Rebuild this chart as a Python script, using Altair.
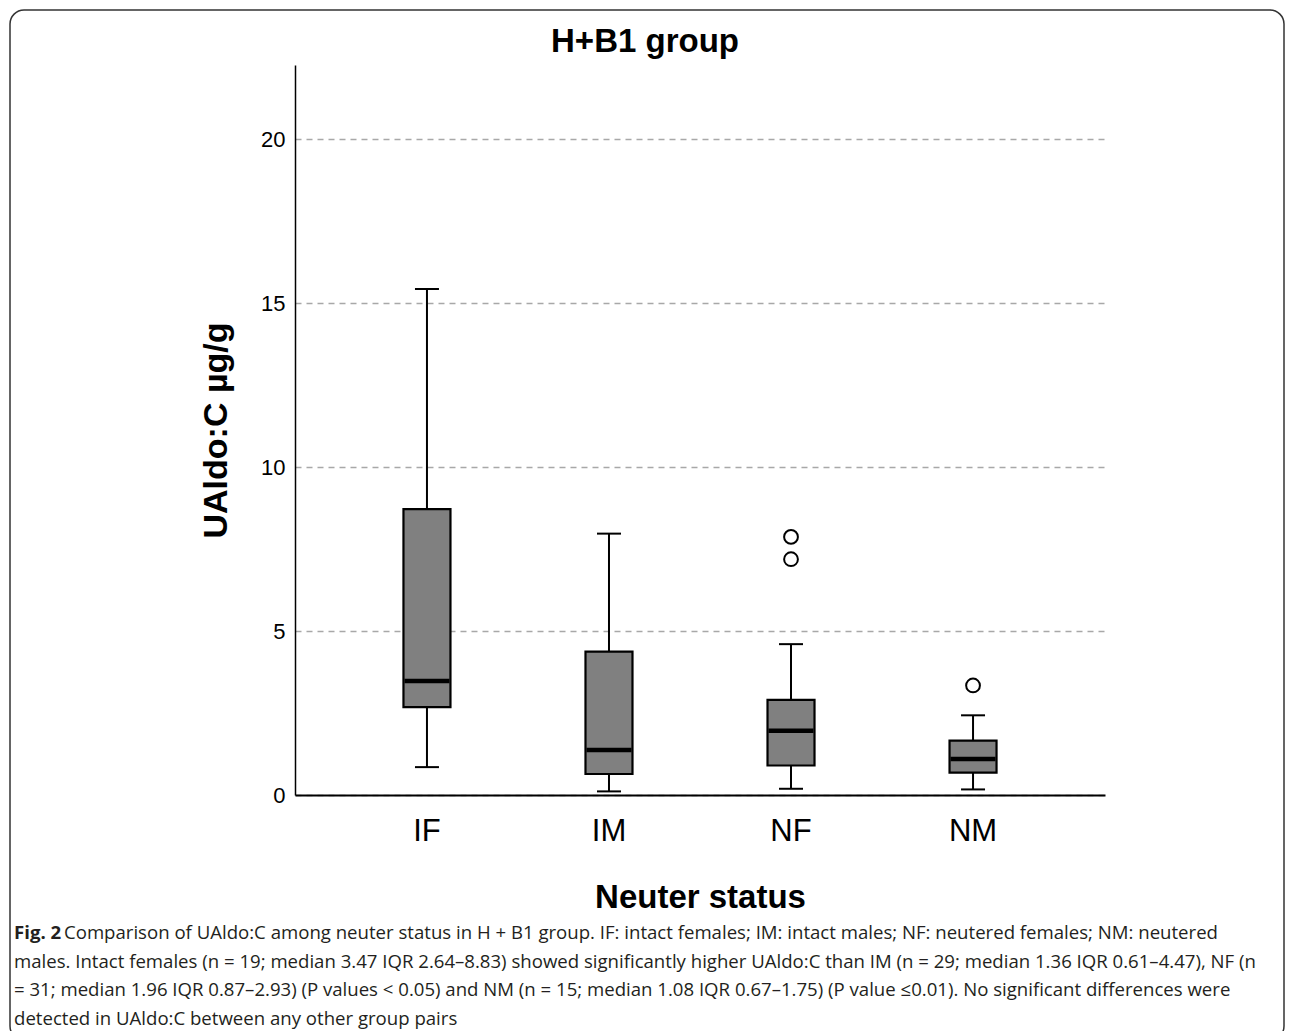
import altair as alt
import pandas as pd

# ---- data ----
categories = ["IF", "IM", "NF", "NM"]
whisker_low = [0.85, 0.11, 0.19, 0.17]
q1 = [2.68, 0.64, 0.90, 0.68]
median = [3.48, 1.37, 1.96, 1.10]
q3 = [8.72, 4.37, 2.90, 1.66]
whisker_high = [15.43, 7.97, 4.60, 2.43]
outlier_groups = ["NF", "NF", "NM"]
outlier_values = [7.87, 7.19, 3.34]
y_ticks = [0, 5, 10, 15, 20]

chart_title = "H+B1 group"
x_title = "Neuter status"
y_title = "UAldo:C µg/g"
caption_bold = "Fig. 2"
caption_lines = [
    "Comparison of UAldo:C among neuter status in H + B1 group. IF: intact females; IM: intact males; NF: neutered females; NM: neutered",
    "males. Intact females (n = 19; median 3.47 IQR 2.64–8.83) showed significantly higher UAldo:C than IM (n = 29; median 1.36 IQR 0.61–4.47), NF (n",
    "= 31; median 1.96 IQR 0.87–2.93) (P values < 0.05) and NM (n = 15; median 1.08 IQR 0.67–1.75) (P value ≤0.01). No significant differences were",
    "detected in UAldo:C between any other group pairs",
]

box_df = pd.DataFrame({
    "group": categories, "low": whisker_low, "q1": q1,
    "median": median, "q3": q3, "high": whisker_high,
})
out_df = pd.DataFrame({"group": outlier_groups, "value": outlier_values})
one = pd.DataFrame({"k": [0]})

FONT = "Liberation Sans"
CAP_FONT = "Open Sans"
CAP_SIZE = 18.6
W, H = 810, 730

x_scale = alt.Scale(domain=categories, paddingInner=0, paddingOuter=0.225)
x_axis = alt.Axis(
    title=x_title, labelAngle=0, labelFont=FONT, labelFontSize=31, labelColor="black",
    labelBaseline="alphabetic", labelPadding=45, ticks=False, tickSize=0,
    domainColor="black", domainWidth=2, grid=False,
    titleFont=FONT, titleFontSize=33, titleFontWeight="bold", titleColor="black",
    titleX=405, titleY=112, titleBaseline="alphabetic", titleAlign="center",
)
y_scale = alt.Scale(domain=[0, 22.26], nice=False, zero=False)
y_axis = alt.Axis(
    title=y_title, values=y_ticks, grid=True, gridDash=[6, 5], gridColor="#a8a8a8",
    gridWidth=1.5, labelFont=FONT, labelFontSize=22, labelColor="black",
    labelPadding=10, ticks=False, tickSize=0, domainColor="black", domainWidth=1.5,
    titleFont=FONT, titleFontSize=34, titleFontWeight="bold", titleColor="black",
    titleAngle=270, titleX=-69, titleY=365, titleBaseline="alphabetic", titleAlign="center",
)


def X():
    return alt.X("group:N", sort=categories, scale=x_scale, axis=x_axis)


def Y(field):
    return alt.Y(f"{field}:Q", scale=y_scale, axis=y_axis)


base = alt.Chart(box_df)

whiskers = base.mark_rule(color="black", strokeWidth=2).encode(
    x=X(), y=Y("low"), y2=alt.Y2("high"))
boxes = base.mark_bar(size=47, fill="#808080", stroke="black", strokeWidth=2.2).encode(
    x=X(), y=Y("q1"), y2=alt.Y2("q3"))
medians = base.mark_tick(orient="horizontal", size=45, thickness=4.5, color="black", opacity=1).encode(
    x=X(), y=Y("median"))
caps_low = base.mark_tick(orient="horizontal", size=24, thickness=2, color="black", opacity=1).encode(
    x=X(), y=Y("low"))
caps_high = base.mark_tick(orient="horizontal", size=24, thickness=2, color="black", opacity=1).encode(
    x=X(), y=Y("high"))
outliers = alt.Chart(out_df).mark_point(
    shape="circle", size=190, filled=False, color="black", strokeWidth=2, opacity=1
).encode(x=X(), y=Y("value"))

frame = alt.Chart(one).mark_rect(
    fillOpacity=0, stroke="#333333", strokeWidth=1.5, cornerRadius=14
).encode(x=alt.value(-285), x2=alt.value(989), y=alt.value(-55), y2=alt.value(975))

title_txt = alt.Chart(one).mark_text(
    text=chart_title, font=FONT, fontSize=33, fontWeight="bold", color="black",
    align="center", baseline="alphabetic"
).encode(x=alt.value(350), y=alt.value(-13))

line_y = [874, 902.5, 931, 959.5]
cap_layers = [
    alt.Chart(one).mark_text(
        text=caption_bold, font=CAP_FONT, fontSize=CAP_SIZE, fontWeight="bold",
        color="#231f20", align="left", baseline="alphabetic"
    ).encode(x=alt.value(-281), y=alt.value(line_y[0]))
]
for i, line in enumerate(caption_lines):
    cap_layers.append(
        alt.Chart(one).mark_text(
            text=line, font=CAP_FONT, fontSize=CAP_SIZE, color="#231f20",
            align="left", baseline="alphabetic"
        ).encode(x=alt.value(-231 if i == 0 else -281), y=alt.value(line_y[i]))
    )

chart = alt.layer(
    frame, whiskers, boxes, medians, caps_low, caps_high, outliers, title_txt, *cap_layers
).properties(
    width=W, height=H,
    autosize=alt.AutoSizeParams(type="none"),
    padding={"left": 287, "top": 57, "right": 180, "bottom": 236},
    background="white",
).configure_view(strokeWidth=0)

chart.save("out.html", embed_options={"renderer": "svg", "actions": False})
